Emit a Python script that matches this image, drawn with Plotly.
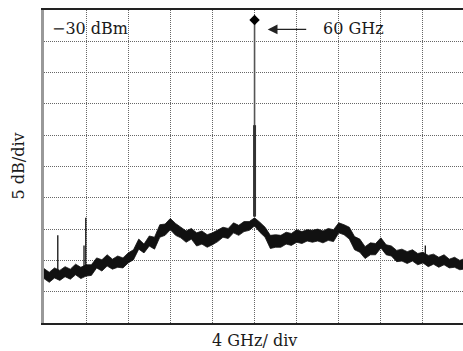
import plotly.graph_objects as go

# Frequency grid of the envelope readings (GHz)
freq_ghz = [40.0, 40.5, 41.0, 41.5, 42.0, 42.5, 43.0, 43.5, 44.0, 44.5,
            45.0, 45.5, 46.0, 46.5, 47.0, 47.5, 48.0, 48.5, 49.0, 49.5,
            50.0, 50.5, 51.0, 51.5, 52.0, 52.5, 53.0, 53.5, 54.0, 54.5,
            55.0, 55.5, 56.0, 56.5, 57.0, 57.5, 58.0, 58.5, 59.0, 59.5,
            60.0, 60.5, 61.0, 61.5, 62.0, 62.5, 63.0, 63.5, 64.0, 64.5,
            65.0, 65.5, 66.0, 66.5, 67.0, 67.5, 68.0, 68.5, 69.0, 69.5,
            70.0, 70.5, 71.0, 71.5, 72.0, 72.5, 73.0, 73.5, 74.0, 74.5,
            75.0, 75.5, 76.0, 76.5, 77.0, 77.5, 78.0, 78.5, 79.0, 79.5, 79.8]

# Upper envelope of the noise trace (dBm)
upper_dbm = [-71.3, -71.9, -71.2, -71.6, -71.0, -71.4, -70.6, -71.1, -70.7, -70.7,
             -69.6, -69.9, -69.1, -69.8, -69.3, -69.6, -68.8, -68.3, -66.6, -67.4,
             -66.1, -66.3, -64.3, -64.2, -63.3, -64.1, -64.7, -65.3, -64.9, -65.6,
             -65.3, -65.9, -65.6, -65.2, -64.7, -64.9, -64.0, -64.4, -63.8, -63.8,
             -63.2, -63.9, -64.7, -66.0, -65.9, -66.0, -65.5, -65.7, -65.1, -65.4,
             -65.1, -65.2, -65.0, -65.3, -64.9, -65.1, -64.0, -64.3, -64.7, -66.2,
             -66.6, -67.8, -67.2, -67.3, -66.4, -67.5, -67.7, -68.4, -68.2, -68.6,
             -68.3, -68.9, -68.7, -69.2, -69.0, -69.5, -69.1, -69.8, -69.5, -70.0, -69.8]

# Lower envelope of the noise trace (dBm)
lower_dbm = [-72.9, -73.5, -72.8, -73.2, -72.6, -73.0, -72.3, -72.9, -72.5, -72.4,
             -71.2, -71.7, -70.9, -71.4, -71.1, -71.2, -70.4, -69.9, -68.2, -68.8,
             -67.7, -68.2, -66.3, -66.0, -65.1, -66.0, -66.4, -67.1, -66.6, -67.7,
             -67.4, -67.9, -67.5, -67.0, -66.3, -66.5, -65.6, -66.0, -65.4, -65.2,
             -64.5, -65.5, -66.3, -68.1, -67.9, -67.9, -67.4, -67.6, -67.1, -67.3,
             -66.9, -67.1, -66.9, -67.2, -66.8, -67.0, -65.6, -65.9, -66.6, -68.3,
             -68.7, -69.7, -69.1, -69.1, -68.0, -69.1, -69.3, -70.2, -70.1, -70.5,
             -70.1, -70.7, -70.4, -71.0, -70.6, -71.1, -70.7, -71.2, -71.1, -71.5, -71.4]

# Spurious spikes
spur_freq = [41.31, 43.80, 43.97, 76.22]
spur_base = [-72.0, -71.5, -71.5, -70.0]
spur_top = [-66.0, -67.6, -63.2, -67.6]

# 60 GHz carrier
peak_freq = 60.0
peak_dbm = -31.6
peak_skirt_top = -48.4
peak_skirt_bottom = -63.0

x_range = [40.0, 79.8]
y_range = [-80.0, -30.0]

SERIF = "DejaVu Serif"
TXT = "#1a1a1a"

fig = go.Figure()

# noise band
fig.add_trace(go.Scatter(x=freq_ghz, y=lower_dbm, mode="lines",
                         line=dict(color="#111", width=0.8), hoverinfo="skip"))
fig.add_trace(go.Scatter(x=freq_ghz, y=upper_dbm, mode="lines", fill="tonexty",
                         fillcolor="#111", line=dict(color="#111", width=0.8),
                         hoverinfo="skip"))

# spurs
sx, sy = [], []
for f, b, t in zip(spur_freq, spur_base, spur_top):
    sx += [f, f, None]
    sy += [b, t, None]
fig.add_trace(go.Scatter(x=sx, y=sy, mode="lines",
                         line=dict(color="#111", width=1.3), hoverinfo="skip"))

# carrier line
fig.add_trace(go.Scatter(x=[peak_freq, peak_freq], y=[peak_dbm, peak_skirt_bottom],
                         mode="lines", line=dict(color="#555", width=1.6),
                         hoverinfo="skip"))
fig.add_trace(go.Scatter(x=[peak_freq, peak_freq], y=[peak_skirt_top, peak_skirt_bottom],
                         mode="lines", line=dict(color="#333", width=3),
                         hoverinfo="skip"))
fig.add_trace(go.Scatter(x=[peak_freq], y=[peak_dbm], mode="markers",
                         marker=dict(symbol="diamond", size=8, color="#000"),
                         hoverinfo="skip"))

fig.update_xaxes(range=x_range, tick0=40, dtick=4, showticklabels=False, ticks="",
                 showgrid=True, gridcolor="#666", gridwidth=1, griddash="1px,1px",
                 zeroline=False, showline=True, linecolor="#222", linewidth=1.5,
                 mirror=True)
fig.update_yaxes(range=y_range, tick0=-80, dtick=5, showticklabels=False, ticks="",
                 showgrid=True, gridcolor="#666", gridwidth=1, griddash="1px,1px",
                 zeroline=False, showline=True, linecolor="#999", linewidth=2.5,
                 mirror=False)

fig.update_layout(
    width=463, height=351,
    margin=dict(l=44, r=0, t=10, b=28),
    paper_bgcolor="white", plot_bgcolor="white",
    showlegend=False,
    font=dict(family=SERIF, color=TXT, size=16),
    annotations=[
        dict(text="\u221230 dBm", xref="paper", yref="paper", x=0.014, y=0.94,
             xanchor="left", yanchor="middle", showarrow=False,
             font=dict(family=SERIF, size=16, color=TXT)),
        dict(text="60 GHz", xref="paper", yref="paper", x=0.66, y=0.94,
             xanchor="left", yanchor="middle", showarrow=False,
             font=dict(family=SERIF, size=16, color=TXT)),
        dict(text="", xref="x", yref="y", x=61.25, y=-33.1, ax=40, ay=0,
             axref="pixel", ayref="pixel", showarrow=True, arrowhead=2,
             arrowsize=1.4, arrowwidth=1.4, arrowcolor="#222", standoff=0),
        dict(text="5 dB/div", xref="paper", yref="paper", x=-0.062, y=0.5,
             xanchor="center", yanchor="middle", textangle=-90, showarrow=False,
             font=dict(family=SERIF, size=16, color=TXT)),
        dict(text="4 GHz/ div", xref="paper", yref="paper", x=0.502, y=-0.055,
             xanchor="center", yanchor="middle", showarrow=False,
             font=dict(family=SERIF, size=16, color=TXT)),
    ],
)

fig.write_html("out.html")
